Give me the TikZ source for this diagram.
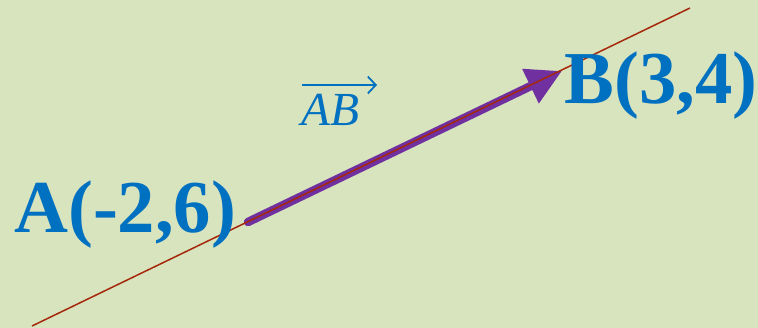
\documentclass[tikz,border=0pt]{standalone}
\usepackage{fontspec}
\setmainfont{Liberation Serif}
\usepackage{tikz}
\usetikzlibrary{arrows.meta}
\definecolor{bggreen}{RGB}{216,228,190}
\definecolor{ptblue}{RGB}{0,112,192}
\definecolor{vecpurple}{RGB}{112,48,160}
\definecolor{linered}{RGB}{165,40,10}

\begin{document}
\begin{tikzpicture}[x=0.02cm, y=-0.02cm,
    ptlabel/.style={text=ptblue, font=\bfseries\fontsize{42.5}{48}\selectfont, inner sep=0pt, anchor=base west},
    veclabel/.style={text=ptblue, font=\itshape\fontsize{27}{32}\selectfont, inner sep=0pt, anchor=base west}]
    % background
    \fill[bggreen] (0,0) rectangle (758,328);
    \useasboundingbox (0,0) rectangle (758,328);

    % points
    \coordinate (A) at (248,222);
    \coordinate (B) at (562,71);
    \coordinate (L0) at (32,326);
    \coordinate (L1) at (690,8);

    % vector AB
    \draw[vecpurple, line width=0.17cm, line cap=round,
        -{Triangle[length=0.7cm, width=0.72cm]}] (A) -- (B);

    % line through A and B
    \draw[linered, line width=0.03cm] (L0) -- (L1);

    % labels
    \node[ptlabel] (labA) at (14,232) {A(-2,6)};
    \node[ptlabel] (labB) at (564,103) {B(3,4)};
    \node[veclabel] (labAB) at (301,125) {AB};
    \coordinate (arrL) at (302,85);
    \coordinate (arrR) at (377,85);
    \draw[ptblue, line width=0.035cm, -{Straight Barb[length=0.16cm, width=0.34cm]}] (arrL) -- (arrR);
\end{tikzpicture}
\end{document}
